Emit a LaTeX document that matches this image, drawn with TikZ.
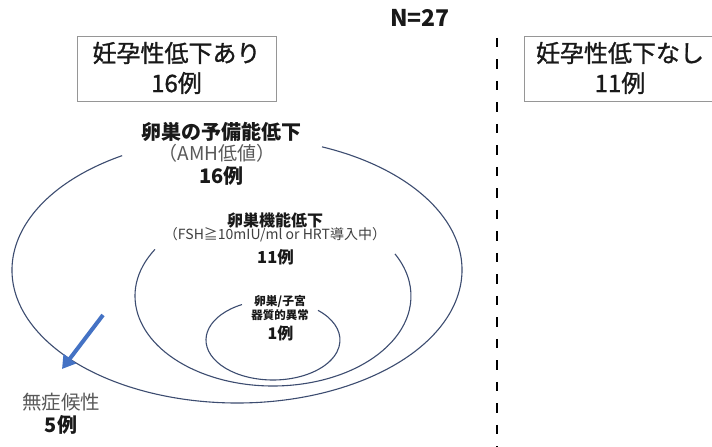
\documentclass[tikz,border=0pt]{standalone}
\usepackage{fontspec}
\setmainfont{Noto Sans CJK JP}
\newfontfamily\boxfont[FakeBold=1.2]{Noto Sans CJK JP}
\usetikzlibrary{arrows.meta}
\definecolor{ringc}{RGB}{60,76,112}
\definecolor{arrowc}{RGB}{68,114,196}
\definecolor{graytxt}{RGB}{89,89,89}
\definecolor{darktxt}{RGB}{25,25,25}
\definecolor{boxc}{RGB}{150,150,150}
\begin{document}
\begin{tikzpicture}[x=1pt,y=1pt,
  ring/.style={draw=ringc,line width=1.1pt},
  groupbox/.style={draw=boxc,line width=1pt,minimum height=65pt,inner sep=0pt},
  lbl/.style={inner sep=0pt,text=darktxt,font=\bfseries\fontsize{#1}{#1}\selectfont},
  glbl/.style={inner sep=0pt,text=graytxt,font=\fontsize{#1}{#1}\selectfont},
  boxtxt/.style={inner sep=0pt,text=darktxt,font=\boxfont\fontsize{24}{24}\selectfont}]
\useasboundingbox (0,0) rectangle (712,447);
\fill[white] (0,0) rectangle (712,447);

% title
\node[lbl=23] (title) at (420,429) {N=27};

% group boxes
\node[groupbox,minimum width=199pt] (boxA) at (176.5,377.5) {};
\node[groupbox,minimum width=192pt] (boxB) at (620,377.5) {};
\node[boxtxt] (boxAt1) at (176.5,394) {妊孕性低下あり};
\node[boxtxt] (boxAt2) at (176.5,364) {16例};
\node[boxtxt] (boxBt1) at (620,394) {妊孕性低下なし};
\node[boxtxt] (boxBt2) at (620,364) {11例};

% divider
\coordinate (divtop) at (497,409);
\coordinate (divbot) at (497,0);
\draw[line width=2.6pt,dash pattern=on 9.5pt off 12pt] (divtop) -- (divbot);

% rings (open at top where labels sit)
\draw[ring] ([shift={(120.7:225pt and 133pt)}]237,177) arc[start angle=120.7,end angle=427.8,x radius=225pt,y radius=133pt];
\draw[ring] ([shift={(148.8:138pt and 90pt)}]273,151) arc[start angle=148.8,end angle=387.9,x radius=138pt,y radius=90pt];
\draw[ring] ([shift={(117.6:67pt and 40pt)}]273,107) arc[start angle=117.6,end angle=407.8,x radius=67pt,y radius=40pt];

% outer ring label
\node[lbl=20] (o1) at (221.5,315) {卵巣の予備能低下};
\node[glbl=19] (o2) at (217,293.5) {（AMH低値）};
\node[lbl=20] (o3) at (221.5,271.5) {16例};

% middle ring label
\node[lbl=16] (m1) at (275,227) {卵巣機能低下};
\node[glbl=14,text=black!75] (m2) at (275,212) {（FSH≧10mIU/ml or HRT導入中）};
\node[lbl=16.5] (m3) at (275.5,190) {11例};

% inner ring label
\node[lbl=11.8] (i1) at (280,145) {卵巣/子宮};
\node[lbl=11.5] (i2) at (280,132) {器質的異常};
\node[lbl=16] (i3) at (280.5,114) {1例};

% asymptomatic
\node[glbl=19.5] (a1) at (61,45) {無症候性};
\node[lbl=20] (a2) at (61,22) {5例};

% arrow
\coordinate (arrS) at (103,132);
\coordinate (arrE) at (62,78);
\draw[draw=arrowc,line width=4pt,-{Triangle[length=13pt,width=15pt]}] (arrS) -- (arrE);
\end{tikzpicture}
\end{document}
